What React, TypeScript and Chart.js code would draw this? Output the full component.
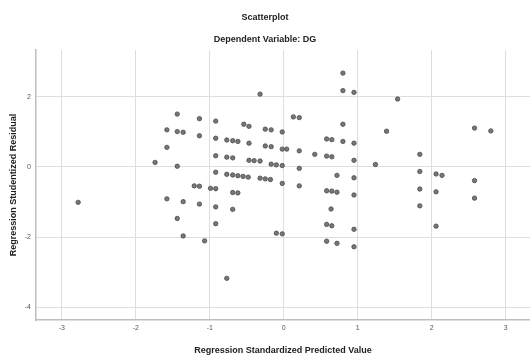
import React, { useEffect, useRef } from "react";
import { Chart, registerables } from "chart.js";

Chart.register(...registerables);

const predicted = [
  -2.78, -1.74, -1.58, -1.58, -1.58, -1.44, -1.44, -1.36, -1.44, -1.36,
  -1.44, -1.36, -1.21, -1.14, -1.14, -1.14, -1.14, -1.07, -0.99, -0.92,
  -0.92, -0.92, -0.92, -0.92, -0.92, -0.92, -0.77, -0.69, -0.62, -0.77,
  -0.69, -0.77, -0.69, -0.62, -0.55, -0.48, -0.69, -0.62, -0.69, -0.77,
  -0.54, -0.47, -0.47, -0.47, -0.40, -0.32, -0.32, -0.32, -0.25, -0.18,
  -0.25, -0.17, -0.25, -0.17, -0.17, -0.10, -0.02, -0.02, -0.02, 0.04,
  -0.02, -0.10, -0.02, 0.13, 0.21, 0.21, 0.21, 0.21, 0.42, 0.58,
  0.65, 0.58, 0.65, 0.58, 0.65, 0.72, 0.72, 0.64, 0.58, 0.65,
  0.58, 0.72, 0.80, 0.80, 0.95, 0.80, 0.80, 0.95, 0.95, 0.95,
  0.95, 0.95, 0.95, 1.24, 1.39, 1.54, 1.84, 1.84, 1.84, 1.84,
  2.06, 2.14, 2.06, 2.06, 2.58, 2.80, 2.58, 2.58,
];

const residual = [
  -1.01, 0.13, 1.06, 0.56, -0.91, 1.51, 1.01, 0.99, 0.02, -0.99,
  -1.47, -1.97, -0.54, -0.55, 1.38, 0.89, -1.06, -2.11, -0.61, -0.62,
  1.31, 0.82, 0.32, -0.15, -1.14, -1.62, 0.77, 0.75, 0.73, 0.28,
  0.26, -0.21, -0.23, -0.25, -0.27, -0.29, -0.73, -0.74, -1.21, -3.18,
  1.22, 1.16, 0.68, 0.19, 0.18, 0.17, 2.08, -0.32, -0.34, -0.36,
  1.08, 1.06, 0.60, 0.58, 0.08, 0.06, 0.04, 1.00, 0.51, 0.51,
  -0.47, -1.89, -1.91, 1.43, 1.41, 0.46, -0.04, -0.54, 0.36, 0.80,
  0.78, 0.31, 0.29, -0.68, -0.69, -0.72, -0.24, -1.20, -1.64, -1.68,
  -2.12, -2.18, 2.68, 2.18, 2.13, 1.22, 0.73, 0.68, 0.19, -0.31,
  -0.80, -1.78, -2.28, 0.07, 1.02, 1.94, 0.36, -0.13, -0.63, -1.11,
  -0.20, -0.24, -0.71, -1.69, 1.11, 1.03, -0.39, -0.89,
];

const xTicks = [-3, -2, -1, 0, 1, 2, 3];
const yTicks = [-4, -2, 0, 2];

const titleText = "Scatterplot";
const subtitleText = "Dependent Variable: DG";
const xTitle = "Regression Standardized Predicted Value";
const yTitle = "Regression Studentized Residual";

const FAMILY = "'Liberation Sans', Arial, sans-serif";

export default function App() {
  const ref = useRef<HTMLCanvasElement>(null);

  useEffect(() => {
    const points = predicted.map((x, i) => ({ x, y: residual[i] }));
    const chart = new Chart(ref.current as HTMLCanvasElement, {
      type: "scatter",
      data: {
        datasets: [
          {
            data: points,
            pointRadius: 2.2,
            pointBackgroundColor: "#777777",
            pointBorderColor: "#4a4a4a",
            pointBorderWidth: 0.8,
          },
        ],
      },
      options: {
        animation: false,
        responsive: false,
        devicePixelRatio: 1,
        layout: { padding: 0, autoPadding: false },
        plugins: {
          legend: { display: false },
          tooltip: { enabled: false },
          title: {
            display: true,
            text: titleText,
            color: "#222",
            font: { family: FAMILY, size: 9, weight: "bold" },
            padding: { top: 12, bottom: 6 },
          },
          subtitle: {
            display: true,
            text: subtitleText,
            color: "#222",
            font: { family: FAMILY, size: 9, weight: "bold" },
            padding: { top: 5.8, bottom: 4.6 },
          },
        },
        scales: {
          x: {
            type: "linear",
            min: -3.35,
            max: 3.33,
            afterBuildTicks: (s: any) => {
              s.ticks = xTicks.map((v) => ({ value: v }));
            },
            afterFit: (s: any) => {
              s.height = 36;
              s.paddingLeft = 0;
              s.paddingRight = 0;
            },
            ticks: {
              color: "#555",
              font: { family: FAMILY, size: 7 },
              padding: 4,
              callback: (v: any) => String(v),
            },
            grid: { color: "#dedede", drawTicks: false, lineWidth: 1 },
            border: { color: "#bdbdbd", width: 1.5 },
            title: {
              display: true,
              text: xTitle,
              color: "#222",
              font: { family: FAMILY, size: 9, weight: "bold" },
              padding: { top: 0, bottom: 0 },
            },
          },
          y: {
            type: "linear",
            min: -4.37,
            max: 3.34,
            afterBuildTicks: (s: any) => {
              s.ticks = yTicks.map((v) => ({ value: v }));
            },
            afterFit: (s: any) => {
              s.width = 36;
              s.paddingTop = 0;
              s.paddingBottom = 0;
            },
            ticks: {
              color: "#555",
              font: { family: FAMILY, size: 7 },
              padding: 5,
              callback: (v: any) => String(v),
            },
            grid: { color: "#dedede", drawTicks: false, lineWidth: 1 },
            border: { color: "#bdbdbd", width: 1.5 },
            title: {
              display: true,
              text: yTitle,
              color: "#222",
              font: { family: FAMILY, size: 9, weight: "bold" },
              padding: { top: 8, bottom: 0 },
            },
          },
        },
      },
    } as any);
    return () => chart.destroy();
  }, []);

  return (
    <div
      style={{
        position: "fixed",
        left: 0,
        top: 0,
        width: 530,
        height: 356,
        background: "#fff",
      }}
    >
      <canvas
        ref={ref}
        width={530}
        height={356}
        style={{ display: "block", width: 530, height: 356 }}
      />
    </div>
  );
}
